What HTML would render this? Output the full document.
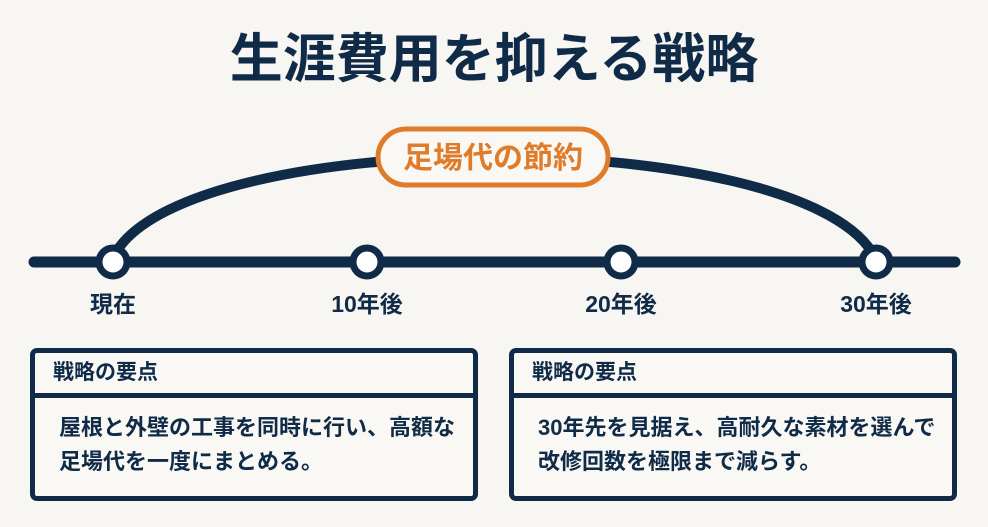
<!DOCTYPE html>
<html><head><meta charset="utf-8"><style>
body{margin:0;width:988px;height:527px;background:#f7f6f2;font-family:"Liberation Sans","Noto Sans CJK JP",sans-serif;color:#0f2b47;position:relative;overflow:hidden}
.t{position:absolute;font-weight:bold;white-space:nowrap}
.box{position:absolute;top:348px;width:438px;height:143px;border:5px solid #0f2b47;border-radius:7px;background:#f9f8f5}
.hd{height:40px;border-bottom:5px solid #0f2b47;font-size:21px;font-weight:bold;line-height:40px;padding-left:18px}
.bd{padding:13px 0 0 24px;font-size:22px;font-weight:bold;line-height:34px}
</style></head><body>
<div class="t" style="left:0;width:988px;text-align:center;top:28px;font-size:53px;line-height:64px">生涯費用を抑える戦略</div>
<svg width="988" height="527" style="position:absolute;left:0;top:0">
<path d="M116 252 C 195 125, 790 125, 872 252" fill="none" stroke="#0f2b47" stroke-width="10"/>
<line x1="34" y1="262" x2="955" y2="262" stroke="#0f2b47" stroke-width="11" stroke-linecap="round"/>
<g fill="#fff" stroke="#0f2b47" stroke-width="7">
<circle cx="113" cy="262" r="14"/><circle cx="367" cy="262" r="14"/><circle cx="621" cy="262" r="14"/><circle cx="876" cy="262" r="14"/>
</g>
<rect x="378" y="129" width="230" height="56" rx="28" fill="#f9f8f5" stroke="#e07b2a" stroke-width="5"/>
<text x="493" y="168" text-anchor="middle" font-size="30" font-weight="bold" fill="#e07b2a" font-family="Liberation Sans, Noto Sans CJK JP, sans-serif">足場代の節約</text>
</svg>
<div class="t" style="left:63px;width:100px;text-align:center;top:285px;font-size:23px">現在</div>
<div class="t" style="left:317px;width:100px;text-align:center;top:285px;font-size:23px">10年後</div>
<div class="t" style="left:571px;width:100px;text-align:center;top:285px;font-size:23px">20年後</div>
<div class="t" style="left:826px;width:100px;text-align:center;top:285px;font-size:23px">30年後</div>
<div class="box" style="left:30px"><div class="hd">戦略の要点</div><div class="bd">屋根と外壁の工事を同時に行い、高額な<br>足場代を一度にまとめる。</div></div>
<div class="box" style="left:509px"><div class="hd">戦略の要点</div><div class="bd">30年先を見据え、高耐久な素材を選んで<br>改修回数を極限まで減らす。</div></div>
</body></html>
